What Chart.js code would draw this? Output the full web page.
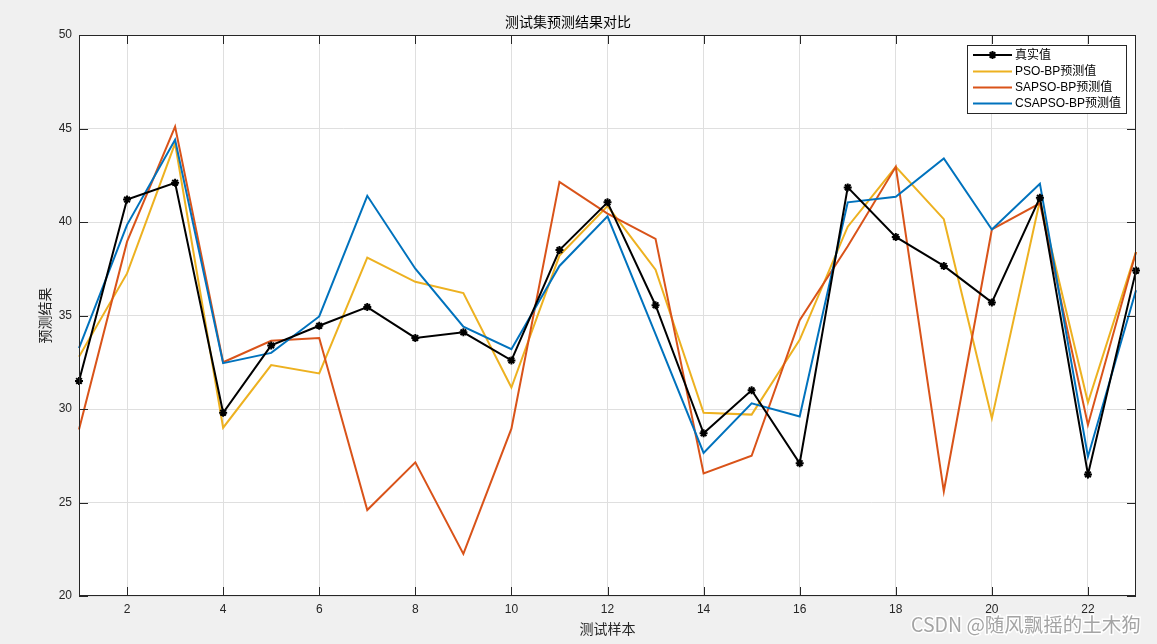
<!DOCTYPE html>
<html><head><meta charset="utf-8">
<script src="https://cdn.jsdelivr.net/npm/chart.js@4/dist/chart.umd.min.js"></script>
<style>html,body{margin:0;padding:0;background:#f0f0f0;}canvas{display:block}</style>
</head><body>
<canvas id="c" width="1157" height="644"></canvas>
<script>
const samples   = [1,2,3,4,5,6,7,8,9,10,11,12,13,14,15,16,17,18,19,20,21,22,23];
const trueVals  = [31.5,41.2,42.1,29.8,33.4,34.45,35.45,33.8,34.1,32.6,38.5,41.05,35.55,28.7,31.0,27.1,41.85,39.2,37.65,35.7,41.3,26.5,37.4];
const psoVals   = [32.8,37.25,44.2,29.0,32.35,31.9,38.1,36.8,36.2,31.15,38.2,40.85,37.45,29.8,29.7,33.7,39.75,42.95,40.15,29.5,41.15,30.35,38.4];
const sapsoVals = [28.9,38.95,45.1,32.5,33.65,33.8,24.6,27.15,22.25,28.95,42.15,40.45,39.1,26.55,27.5,34.75,38.7,42.95,25.6,39.6,41.0,29.15,38.4];
const csapsoVals= [33.25,39.85,44.4,32.45,33.0,34.95,41.4,37.5,34.4,33.2,37.65,40.3,34.0,27.65,30.3,29.6,41.05,41.35,43.4,39.6,42.05,27.45,36.35];
const xTicks = [2,4,6,8,10,12,14,16,18,20,22];
const yTicks = [20,25,30,35,40,45,50];
const seriesNames = ['真实值','PSO-BP预测值','SAPSO-BP预测值','CSAPSO-BP预测值'];
const seriesColors = ['#000000','#EDB120','#D95319','#0072BD'];
const titleText = '测试集预测结果对比';
const xTitle = '测试样本';
const yTitle = '预测结果';
const watermark = 'CSDN @随风飘摇的土木狗';

const FONT = "'Liberation Sans', Arial, 'Noto Sans CJK SC', sans-serif";
const CJK = "'Noto Sans CJK SC', sans-serif";
const AX = '#262626';

function pts(vals){ return samples.map((s,i)=>({x:s,y:vals[i]})); }
const seriesVals = [trueVals, psoVals, sapsoVals, csapsoVals];

function drawStar(ctx, x, y, r){
  ctx.beginPath();
  for(let k=0;k<4;k++){
    const a = k*Math.PI/4;
    ctx.moveTo(x - r*Math.cos(a), y - r*Math.sin(a));
    ctx.lineTo(x + r*Math.cos(a), y + r*Math.sin(a));
  }
  ctx.stroke();
}

const framePlugin = {
  id:'frame',
  beforeDraw(chart){
    const {ctx, chartArea:a} = chart;
    ctx.save();
    ctx.fillStyle = '#ffffff';
    ctx.fillRect(a.left, a.top, a.right-a.left, a.bottom-a.top);
    ctx.restore();
  },
  afterDraw(chart){
    const {ctx, chartArea:a, scales:{x,y}} = chart;
    ctx.save();
    ctx.strokeStyle = AX; ctx.lineWidth = 1;
    ctx.beginPath();
    xTicks.forEach(v=>{
      const px = Math.round(x.getPixelForValue(v))+0.5;
      ctx.moveTo(px, a.bottom); ctx.lineTo(px, a.bottom-9);
      ctx.moveTo(px, a.top); ctx.lineTo(px, a.top+9);
    });
    yTicks.forEach(v=>{
      const py = Math.round(y.getPixelForValue(v))+0.5;
      ctx.moveTo(a.left, py); ctx.lineTo(a.left+9, py);
      ctx.moveTo(a.right, py); ctx.lineTo(a.right-9, py);
    });
    ctx.stroke();
    ctx.strokeRect(Math.round(a.left)+0.5, Math.round(a.top)+0.5, Math.round(a.right-a.left)-1, Math.round(a.bottom-a.top)-1);

    // legend
    const lx = 967.5, ly = 45.5, lw = 159, lh = 68;
    ctx.fillStyle = '#ffffff';
    ctx.fillRect(lx, ly, lw, lh);
    ctx.strokeStyle = AX; ctx.lineWidth = 1;
    ctx.strokeRect(lx, ly, lw, lh);
    const rows = [55, 71.5, 87.5, 103.5];
    ctx.font = '12px ' + FONT;
    ctx.textBaseline = 'middle';
    ctx.textAlign = 'left';
    seriesNames.forEach((n,i)=>{
      const ry = rows[i];
      ctx.strokeStyle = seriesColors[i];
      ctx.lineWidth = 2;
      ctx.beginPath(); ctx.moveTo(973, ry); ctx.lineTo(1012, ry); ctx.stroke();
      if(i===0){ drawStar(ctx, 992.5, ry, 4); }
      ctx.fillStyle = '#000000';
      ctx.fillText(n, 1015, ry+0.5);
    });

    // watermark
    ctx.font = '19.5px ' + CJK;
    ctx.textBaseline = 'middle';
    ctx.lineWidth = 3;
    ctx.strokeStyle = 'rgba(255,255,255,0.9)';
    ctx.strokeText(watermark, 911, 625);
    ctx.fillStyle = '#a4a4a4';
    ctx.fillText(watermark, 911, 625);
    ctx.restore();
  }
};

const datasets = seriesNames.map((n,i)=>({
  label: n,
  data: pts(seriesVals[i]),
  borderColor: seriesColors[i],
  backgroundColor: seriesColors[i],
  borderWidth: 2,
  tension: 0,
  fill: false,
  clip: false,
  pointRadius: i===0 ? 4 : 0,
  pointHoverRadius: i===0 ? 4 : 0,
  pointStyle: 'star',
  pointBorderWidth: 2,
  pointBorderColor: seriesColors[i],
  order: i===0 ? 0 : 4-i
}));

new Chart(document.getElementById('c'), {
  type: 'line',
  data: { datasets },
  plugins: [framePlugin],
  options: {
    responsive: false,
    animation: false,
    devicePixelRatio: 1,
    layout: { padding: { left: 0, right: 21, top: 0, bottom: 0 } },
    plugins: {
      legend: { display: false },
      tooltip: { enabled: false },
      title: {
        display: true, text: titleText, color: '#000000',
        font: { family: CJK, size: 14, weight: 'normal' },
        padding: { top: 13, bottom: 5.2 }
      }
    },
    scales: {
      x: {
        type: 'linear', min: 1, max: 23,
        afterBuildTicks: s => { s.ticks = xTicks.map(v=>({value:v})); },
        afterFit: s => { s.height = 48; },
        grid: { color: '#dfdfdf', lineWidth: 1, drawTicks: false },
        border: { display: false },
        ticks: { color: AX, font: { family: FONT, size: 12 }, padding: 6, maxRotation: 0, autoSkip: false },
        title: { display: true, text: xTitle, color: AX, font: { family: CJK, size: 14 }, padding: { top: 0, bottom: 6.6 } }
      },
      y: {
        type: 'linear', min: 20, max: 50,
        afterBuildTicks: s => { s.ticks = yTicks.map(v=>({value:v})); },
        afterFit: s => { s.width = 79; },
        grid: { color: '#dfdfdf', lineWidth: 1, drawTicks: false },
        border: { display: false },
        ticks: { color: AX, font: { family: FONT, size: 12 }, padding: 7 },
        title: { display: true, text: yTitle, color: AX, font: { family: CJK, size: 14 }, padding: { top: 36.5, bottom: 0 } }
      }
    }
  }
});
</script>
</body></html>
